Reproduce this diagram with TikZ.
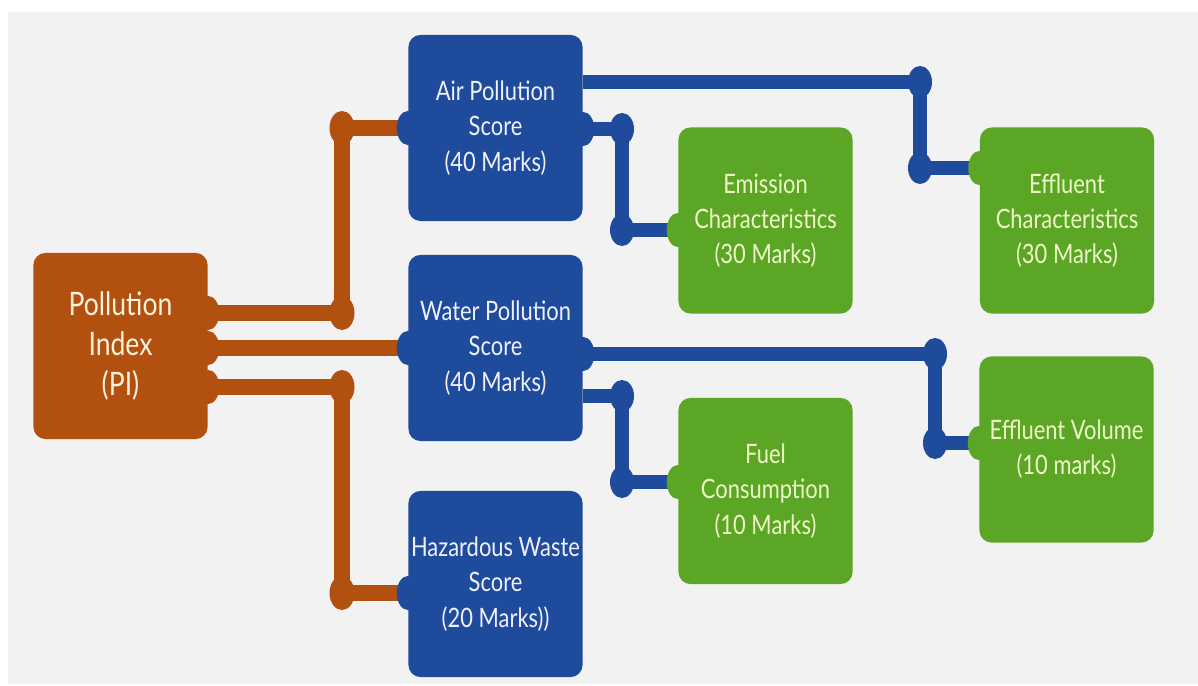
\documentclass[tikz,border=0pt]{standalone}
\usepackage{fontspec}
\setmainfont[FakeStretch=0.82]{Lato}
\usetikzlibrary{shapes.geometric}
\pgfdeclarelayer{background}
\pgfsetlayers{background,main}
\definecolor{pibrown}{HTML}{B25010}
\definecolor{scoreblue}{HTML}{1E4B9B}
\definecolor{partgreen}{HTML}{5CA626}
\definecolor{panelgray}{HTML}{F2F2F2}
\definecolor{picream}{HTML}{FFF1DA}
\definecolor{partyellow}{HTML}{EEF8C6}

\begin{document}
\begin{tikzpicture}[x=0.01cm,y=-0.01cm,
  box/.style={rectangle, rounded corners=0.12cm, minimum width=1.74cm, minimum height=1.86cm,
    align=center, inner sep=0pt, font=\fontsize{7.6pt}{10pt}\selectfont},
  pibox/.style={box, fill=pibrown, text=picream, font=\fontsize{9.2pt}{11.4pt}\selectfont},
  scorebox/.style={box, fill=scoreblue, text=white!94!blue},
  partbox/.style={box, fill=partgreen, text=partyellow},
  odot/.style={ellipse, fill=pibrown, minimum width=0.25cm, minimum height=0.34cm, inner sep=0pt},
  bdot/.style={odot, fill=scoreblue, minimum width=0.24cm, minimum height=0.32cm},
  oline/.style={pibrown, line width=4.4pt},
  bline/.style={scoreblue, line width=3.9pt},
  bump/.style={x radius=0.11cm, y radius=0.17cm}]
\useasboundingbox (0,0) rectangle (1198,686);
\begin{pgfonlayer}{background}
\fill[white] (0,0) rectangle (1198,686);
\fill[panelgray] (8,12) rectangle (1198,684);
\end{pgfonlayer}

\node[pibox] (P) at (120.5,346) {Pollution\\Index\\(PI)};

\node[scorebox] (S1) at (495.5,128) {Air Pollution\\Score\\(40 Marks)};
\node[scorebox] (S2) at (495.5,348) {Water Pollution\\Score\\(40 Marks)};
\node[scorebox] (S3) at (495.5,584) {Hazardous Waste\\Score\\(20 Marks))};

\node[partbox] (C1) at (765.5,220.5) {Emission\\Characteristics\\(30 Marks)};
\node[partbox] (C2) at (765.5,491) {Fuel\\Consumption\\(10 Marks)};
\node[partbox] (C3) at (1067,220.5) {Effluent\\Characteristics\\(30 Marks)};
\node[partbox] (C4) at (1066.5,449.5) {Effluent Volume\\(10 marks)};

\node[odot] (D1) at (342,313) {};
\node[odot] (D2) at (342,128) {};
\node[odot] (D3) at (342,387) {};
\node[odot] (D4) at (342,593) {};

\node[bdot] (D5) at (622,129) {};
\node[bdot] (D6) at (622,230) {};
\node[bdot] (D7) at (920,82) {};
\node[bdot] (D8) at (920,168) {};
\node[bdot] (D9) at (622,396) {};
\node[bdot] (D10) at (622,482) {};
\node[bdot] (D11) at (935,354) {};
\node[bdot] (D12) at (935,443) {};

\begin{pgfonlayer}{background}
\draw[oline] (P.east |- D1) -- (D1.center) -- (D2.center) -- (S1.west |- D2);
\draw[oline] (P.east |- S2.west) -- (S2.west);
\draw[oline] (P.east |- D3) -- (D3.center) -- (D4.center) -- (S3.west |- D4);

\draw[bline] (S1.east |- D7) -- (D7.center) -- (D8.center) -- (C3.west |- D8);
\draw[bline] (S1.east |- D5) -- (D5.center) -- (D6.center) -- (C1.west |- D6);
\draw[bline] (S2.east |- D11) -- (D11.center) -- (D12.center) -- (C4.west |- D12);
\draw[bline] (S2.east |- D9) -- (D9.center) -- (D10.center) -- (C2.west |- D10);

\fill[pibrown] (P.east |- D1) ellipse[bump];
\fill[pibrown] (P.east |- S2.west) ellipse[bump];
\fill[pibrown] (P.east |- D3) ellipse[bump];

\fill[scoreblue] (S1.west |- D2) ellipse[bump];
\fill[scoreblue] (S2.west) ellipse[bump];
\fill[scoreblue] (S3.west |- D4) ellipse[bump];
\fill[scoreblue] (S1.east |- D5) ellipse[bump];
\fill[scoreblue] (S2.east |- D11) ellipse[bump];

\fill[partgreen] (C1.west |- D6) ellipse[bump];
\fill[partgreen] (C2.west |- D10) ellipse[bump];
\fill[partgreen] (C3.west |- D8) ellipse[bump];
\fill[partgreen] (C4.west |- D12) ellipse[bump];
\end{pgfonlayer}

\end{tikzpicture}
\end{document}
